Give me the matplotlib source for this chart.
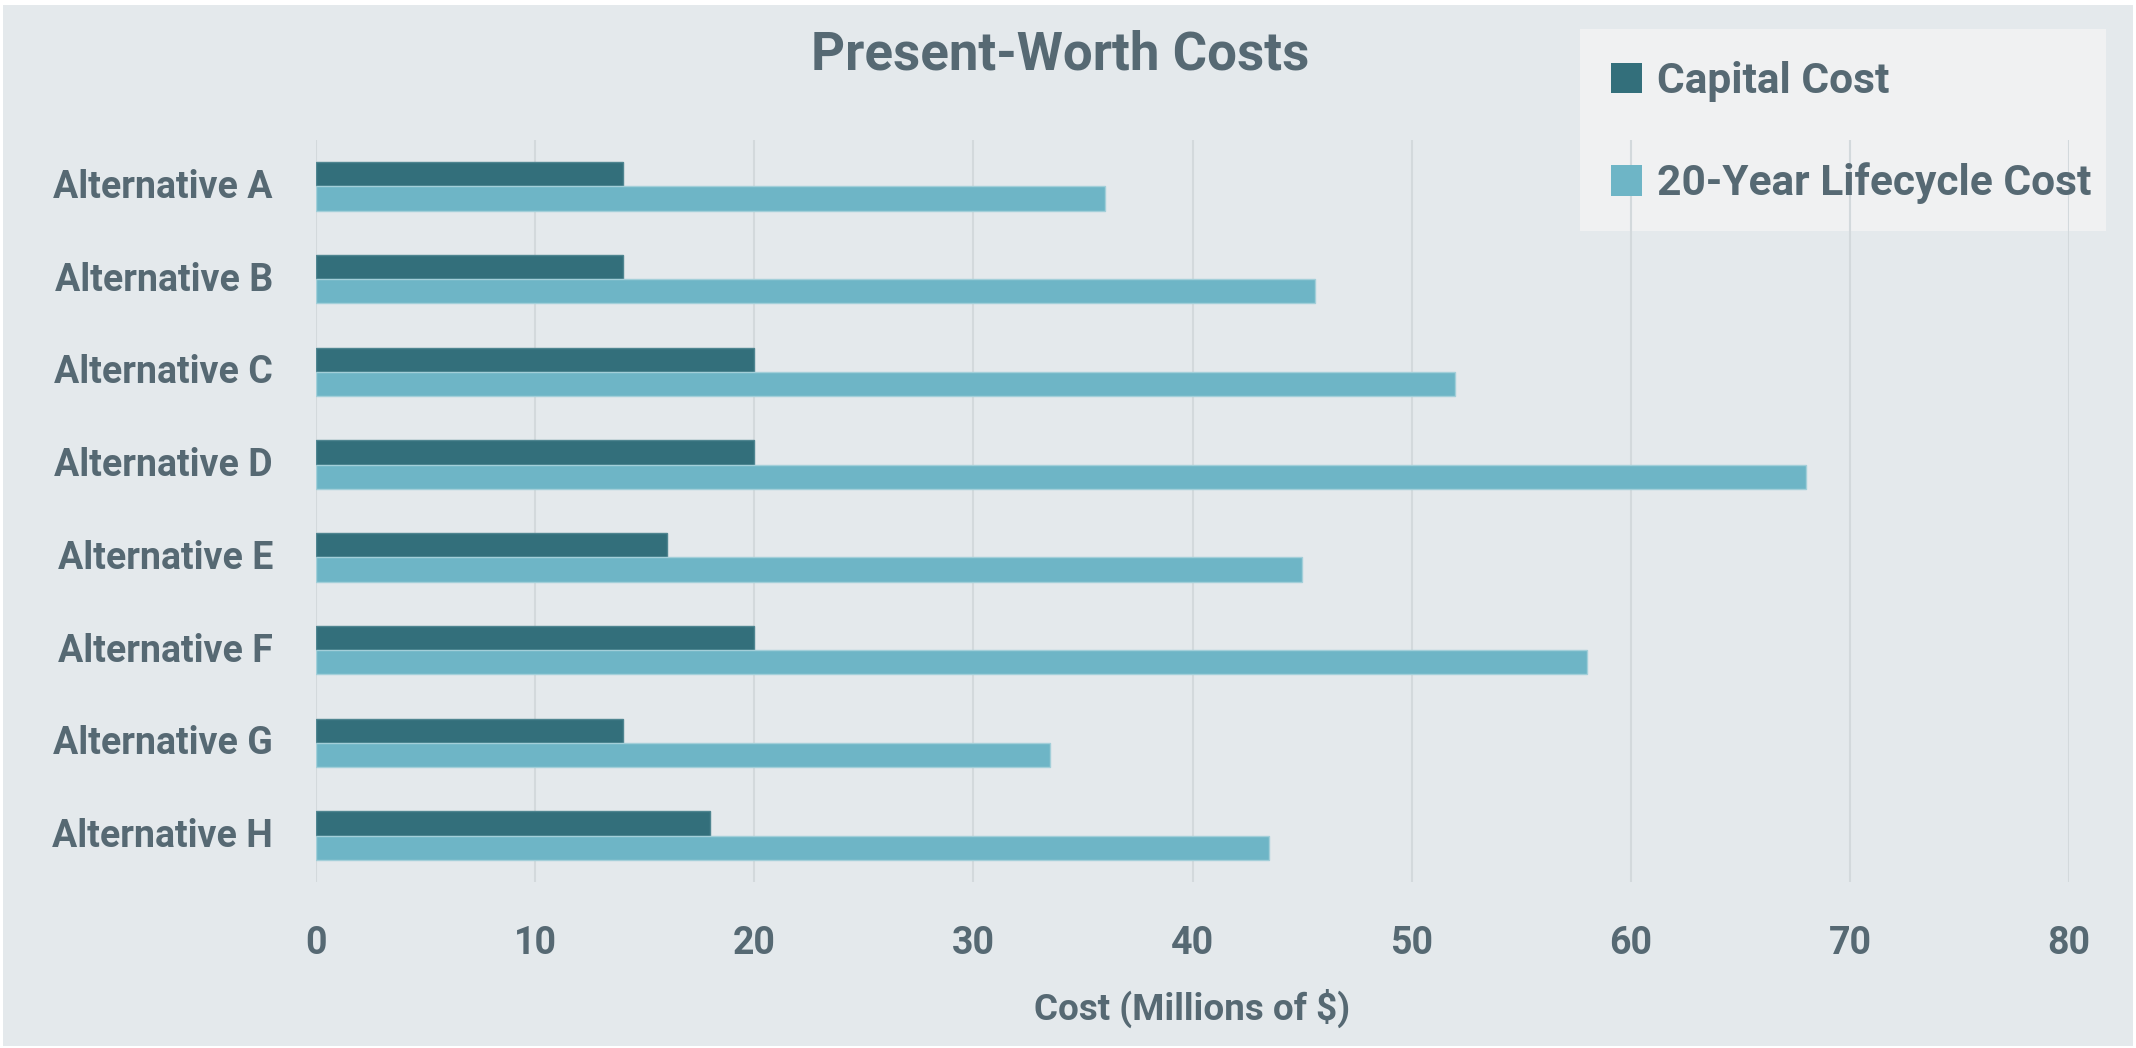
import matplotlib
matplotlib.use("Agg")
import matplotlib.pyplot as plt
from matplotlib.patches import Rectangle, Patch
import matplotlib.transforms as mtransforms
import numpy as np

categories = ["Alternative A", "Alternative B", "Alternative C", "Alternative D",
              "Alternative E", "Alternative F", "Alternative G", "Alternative H"]
capital_cost = [14, 14, 20, 20, 16, 20, 14, 18]
lifecycle_cost = [36, 45.6, 52, 68, 45, 58, 33.5, 43.5]
series_names = ["Capital Cost", "20-Year Lifecycle Cost"]
x_ticks = [0, 10, 20, 30, 40, 50, 60, 70, 80]

plt.rcParams['font.family'] = ['Roboto', 'DejaVu Sans']
plt.rcParams['font.weight'] = 'bold'

TEXT = "#566973"
DARK = "#336f7b"
LIGHT = "#6eb5c6"
BG = "#e4e9ec"

W, H = 2136, 1048
fig = plt.figure(figsize=(W / 100, H / 100), dpi=100, facecolor="white")
fig.patches.append(Rectangle((3 / W, 2 / H), (W - 6) / W, (H - 7) / H,
                             transform=fig.transFigure, facecolor=BG,
                             edgecolor="none", zorder=-10))
# legend box background
fig.patches.append(Rectangle((1580 / W, 1 - 231 / H), (2106 - 1580) / W, (231 - 29) / H,
                             transform=fig.transFigure, facecolor="#f0f1f2",
                             edgecolor="none", zorder=-5))

left, right, top, bottom = 316, 2069, 140, 882
ax = fig.add_axes([left / W, 1 - bottom / H, (right - left) / W, (bottom - top) / H])
ax.set_facecolor("none")

y = np.arange(len(categories))
h = 0.262
ax.barh(y - h / 2, capital_cost, height=h, color=DARK, edgecolor="#4f8590",
        linewidth=1, zorder=3, label=series_names[0])
ax.barh(y + h / 2, lifecycle_cost, height=h, color=LIGHT, edgecolor="#a3cfd9",
        linewidth=1, zorder=3, label=series_names[1])

ax.set_ylim(len(categories) - 0.5, -0.5)
ax.set_xlim(0, 80)
ax.set_xticks(x_ticks)
ax.set_xticklabels([str(t) for t in x_ticks])
ax.set_yticks(y)
ax.set_yticklabels(categories)
ax.tick_params(axis="both", length=0, colors=TEXT, labelsize=27)
ax.tick_params(axis="y", pad=31)
ax.tick_params(axis="x", pad=31)
shift = mtransforms.ScaledTranslation(0, 3 / 100, fig.dpi_scale_trans)
for lbl in ax.get_yticklabels():
    lbl.set_fontweight("bold")
    lbl.set_transform(lbl.get_transform() + shift)
for lbl in ax.get_xticklabels():
    lbl.set_fontweight("bold")

ax.grid(axis="x", color="#d3d9dc", linewidth=1.5, zorder=0)
ax.grid(axis="y", visible=False)
for s in ax.spines.values():
    s.set_visible(False)

ax.set_xlabel("Cost (Millions of $)", fontsize=26.5, color=TEXT, fontweight="bold",
              labelpad=19)

fig.text(1060 / W, 1 - 70 / H, "Present-Worth Costs", fontsize=38,
         fontweight="bold", color=TEXT, ha="center", va="baseline")

handles = [Patch(facecolor=DARK, edgecolor="none"), Patch(facecolor=LIGHT, edgecolor="none")]
leg = fig.legend(handles, series_names, loc="upper left",
                 bbox_to_anchor=(1611 / W, 1 - 61 / H), bbox_transform=fig.transFigure,
                 fontsize=30.6, frameon=False, borderaxespad=0,
                 borderpad=0, labelspacing=1.42, handlelength=0.73,
                 handleheight=0.73, handletextpad=0.36)
for t in leg.get_texts():
    t.set_color(TEXT)
    t.set_fontweight("bold")

fig.savefig("out.png", dpi=100, facecolor="white")
